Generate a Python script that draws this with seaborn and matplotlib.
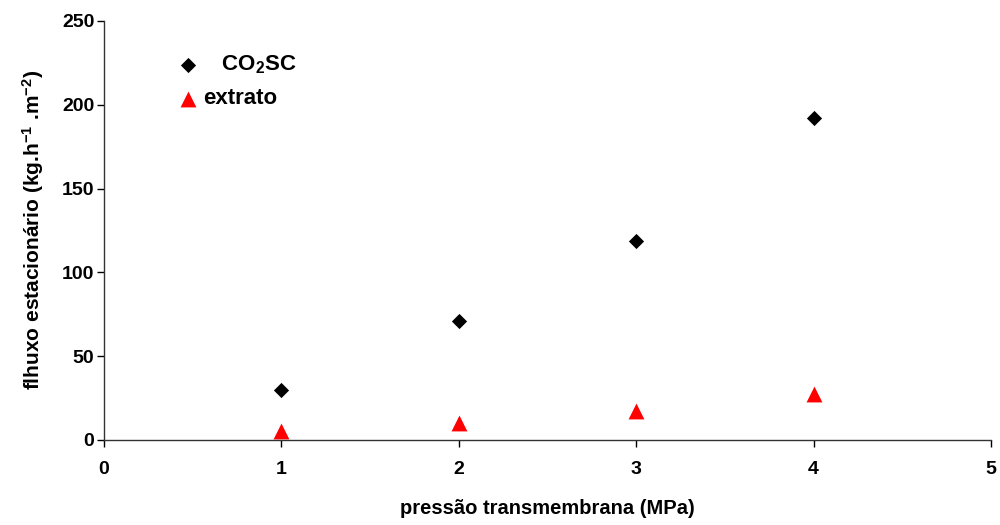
import matplotlib
matplotlib.use('Agg')
import matplotlib.pyplot as plt
import seaborn as sns

# Data
pressao = [1, 2, 3, 4]
fluxo_co2 = [30, 71, 119, 192]
fluxo_extrato = [5.5, 10, 17.5, 27.5]
series_labels = [r'   $\mathbf{CO_2SC}$', 'extrato']

sns.set_style('ticks')
plt.rcParams['font.family'] = ['Liberation Sans', 'DejaVu Sans']
plt.rcParams['font.weight'] = 'bold'
plt.rcParams['text.color'] = 'black'
plt.rcParams['axes.labelcolor'] = 'black'
plt.rcParams['mathtext.fontset'] = 'custom'
plt.rcParams['mathtext.rm'] = 'Liberation Sans:bold'
plt.rcParams['mathtext.bf'] = 'Liberation Sans:bold'
plt.rcParams['mathtext.it'] = 'Liberation Sans:bold'

fig = plt.figure(figsize=(10, 5.25), dpi=100)
ax = fig.add_axes([0.104, 0.162, 0.887, 0.798])

sns.scatterplot(x=pressao, y=fluxo_co2, color='black', marker='D', s=60,
                linewidth=0, label=series_labels[0], ax=ax)
sns.scatterplot(x=pressao, y=fluxo_extrato, color='red', marker='^', s=130,
                linewidth=0, label=series_labels[1], ax=ax)

ax.set_xlim(0, 5)
ax.set_ylim(0, 250)
ax.set_xticks([0, 1, 2, 3, 4, 5])
ax.set_yticks([0, 50, 100, 150, 200, 250])
ax.tick_params(direction='out', length=5, width=1, labelsize=14, colors='black')
ax.tick_params(axis='y', pad=2)
ax.tick_params(axis='x', pad=10)
for lbl in ax.get_xticklabels() + ax.get_yticklabels():
    lbl.set_fontweight('bold')
sns.despine(ax=ax)
for s in ['left', 'bottom']:
    ax.spines[s].set_color('#333333')
    ax.spines[s].set_linewidth(1)

ax.set_xlabel('pressão transmembrana (MPa)', fontsize=14.5, fontweight='bold', labelpad=15)
ax.set_ylabel(r'flhuxo estacionário (kg.h$^{-1}$ .m$^{-2}$)', fontsize=15,
              fontweight='bold', labelpad=11)

leg = ax.legend(loc='upper left', bbox_to_anchor=(0.057, 0.97), frameon=False,
                fontsize=16, handletextpad=0.1, labelspacing=0.55, handlelength=1.2)
for t in leg.get_texts():
    t.set_fontweight('bold')
    t.set_color('black')

fig.savefig('out.png', dpi=100)
